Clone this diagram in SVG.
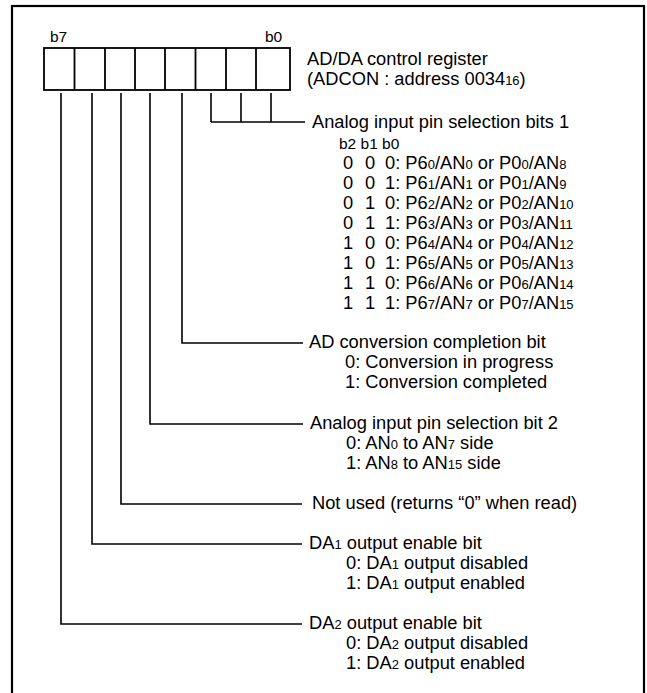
<svg xmlns="http://www.w3.org/2000/svg" width="647" height="693" viewBox="0 0 647 693">
<style>
text{font-family:"Liberation Sans",Arial,sans-serif;font-size:18.3px;fill:#000}
.s{font-size:13px}
.bl{font-size:15.5px}
.frame{fill:none;stroke:#000;stroke-width:2.2}
.cell{fill:#fff;stroke:#000;stroke-width:1.8}
.con{fill:none;stroke:#000;stroke-width:1.6}
</style>
<rect width="647" height="693" fill="#fff"/>
<rect class="frame" x="12" y="6" width="632" height="720"/>
<g id="register">
<rect class="cell" x="44" y="48" width="246" height="42"/>
<path class="cell" d="M74.5,48V90M105,48V90M135,48V90M165,48V90M195.5,48V90M226,48V90M256,48V90"/>
<text class="bl" x="50" y="42">b7</text>
<text class="bl" x="265" y="42">b0</text>
</g>
<g id="register-title">
<text x="307" y="65">AD/DA control register</text>
<text x="307" y="85">(ADCON : address 0034<tspan class="s">16</tspan>)</text>
</g>
<g id="connectors">
<path class="con" d="M211,93V122M241,93V122M271,93V122M211,122H305"/>
<path class="con" d="M182,93V343H303"/>
<path class="con" d="M150,93V424H303"/>
<path class="con" d="M121,93V504H302"/>
<path class="con" d="M92,93V544H302"/>
<path class="con" d="M61,93V624H302"/>
</g>
<g id="bits1">
<text x="312" y="128">Analog input pin selection bits 1</text>
<text class="bl" x="339" y="149">b2 b1 b0</text>
<text y="169"><tspan x="343">0</tspan><tspan x="365">0</tspan><tspan x="385">0: P6<tspan class="s">0</tspan>/AN<tspan class="s">0</tspan> or P0<tspan class="s">0</tspan>/AN<tspan class="s">8</tspan></tspan></text>
<text y="189"><tspan x="343">0</tspan><tspan x="365">0</tspan><tspan x="385">1: P6<tspan class="s">1</tspan>/AN<tspan class="s">1</tspan> or P0<tspan class="s">1</tspan>/AN<tspan class="s">9</tspan></tspan></text>
<text y="209"><tspan x="343">0</tspan><tspan x="365">1</tspan><tspan x="385">0: P6<tspan class="s">2</tspan>/AN<tspan class="s">2</tspan> or P0<tspan class="s">2</tspan>/AN<tspan class="s">10</tspan></tspan></text>
<text y="229"><tspan x="343">0</tspan><tspan x="365">1</tspan><tspan x="385">1: P6<tspan class="s">3</tspan>/AN<tspan class="s">3</tspan> or P0<tspan class="s">3</tspan>/AN<tspan class="s">11</tspan></tspan></text>
<text y="249"><tspan x="343">1</tspan><tspan x="365">0</tspan><tspan x="385">0: P6<tspan class="s">4</tspan>/AN<tspan class="s">4</tspan> or P0<tspan class="s">4</tspan>/AN<tspan class="s">12</tspan></tspan></text>
<text y="269"><tspan x="343">1</tspan><tspan x="365">0</tspan><tspan x="385">1: P6<tspan class="s">5</tspan>/AN<tspan class="s">5</tspan> or P0<tspan class="s">5</tspan>/AN<tspan class="s">13</tspan></tspan></text>
<text y="289"><tspan x="343">1</tspan><tspan x="365">1</tspan><tspan x="385">0: P6<tspan class="s">6</tspan>/AN<tspan class="s">6</tspan> or P0<tspan class="s">6</tspan>/AN<tspan class="s">14</tspan></tspan></text>
<text y="309"><tspan x="343">1</tspan><tspan x="365">1</tspan><tspan x="385">1: P6<tspan class="s">7</tspan>/AN<tspan class="s">7</tspan> or P0<tspan class="s">7</tspan>/AN<tspan class="s">15</tspan></tspan></text>
</g>
<g id="adconv">
<text x="309" y="348">AD conversion completion bit</text>
<text x="345" y="368">0: Conversion in progress</text>
<text x="345" y="388">1: Conversion completed</text>
</g>
<g id="bit2">
<text x="310" y="429">Analog input pin selection bit 2</text>
<text x="346" y="449">0: AN<tspan class="s">0</tspan> to AN<tspan class="s">7</tspan> side</text>
<text x="346" y="469">1: AN<tspan class="s">8</tspan> to AN<tspan class="s">15</tspan> side</text>
</g>
<g id="notused">
<text x="312" y="509">Not used (returns “0” when read)</text>
</g>
<g id="da1">
<text x="309" y="549">DA<tspan class="s">1</tspan> output enable bit</text>
<text x="346" y="569">0: DA<tspan class="s">1</tspan> output disabled</text>
<text x="346" y="589">1: DA<tspan class="s">1</tspan> output enabled</text>
</g>
<g id="da2">
<text x="309" y="629">DA<tspan class="s">2</tspan> output enable bit</text>
<text x="346" y="649">0: DA<tspan class="s">2</tspan> output disabled</text>
<text x="346" y="669">1: DA<tspan class="s">2</tspan> output enabled</text>
</g>
</svg>
